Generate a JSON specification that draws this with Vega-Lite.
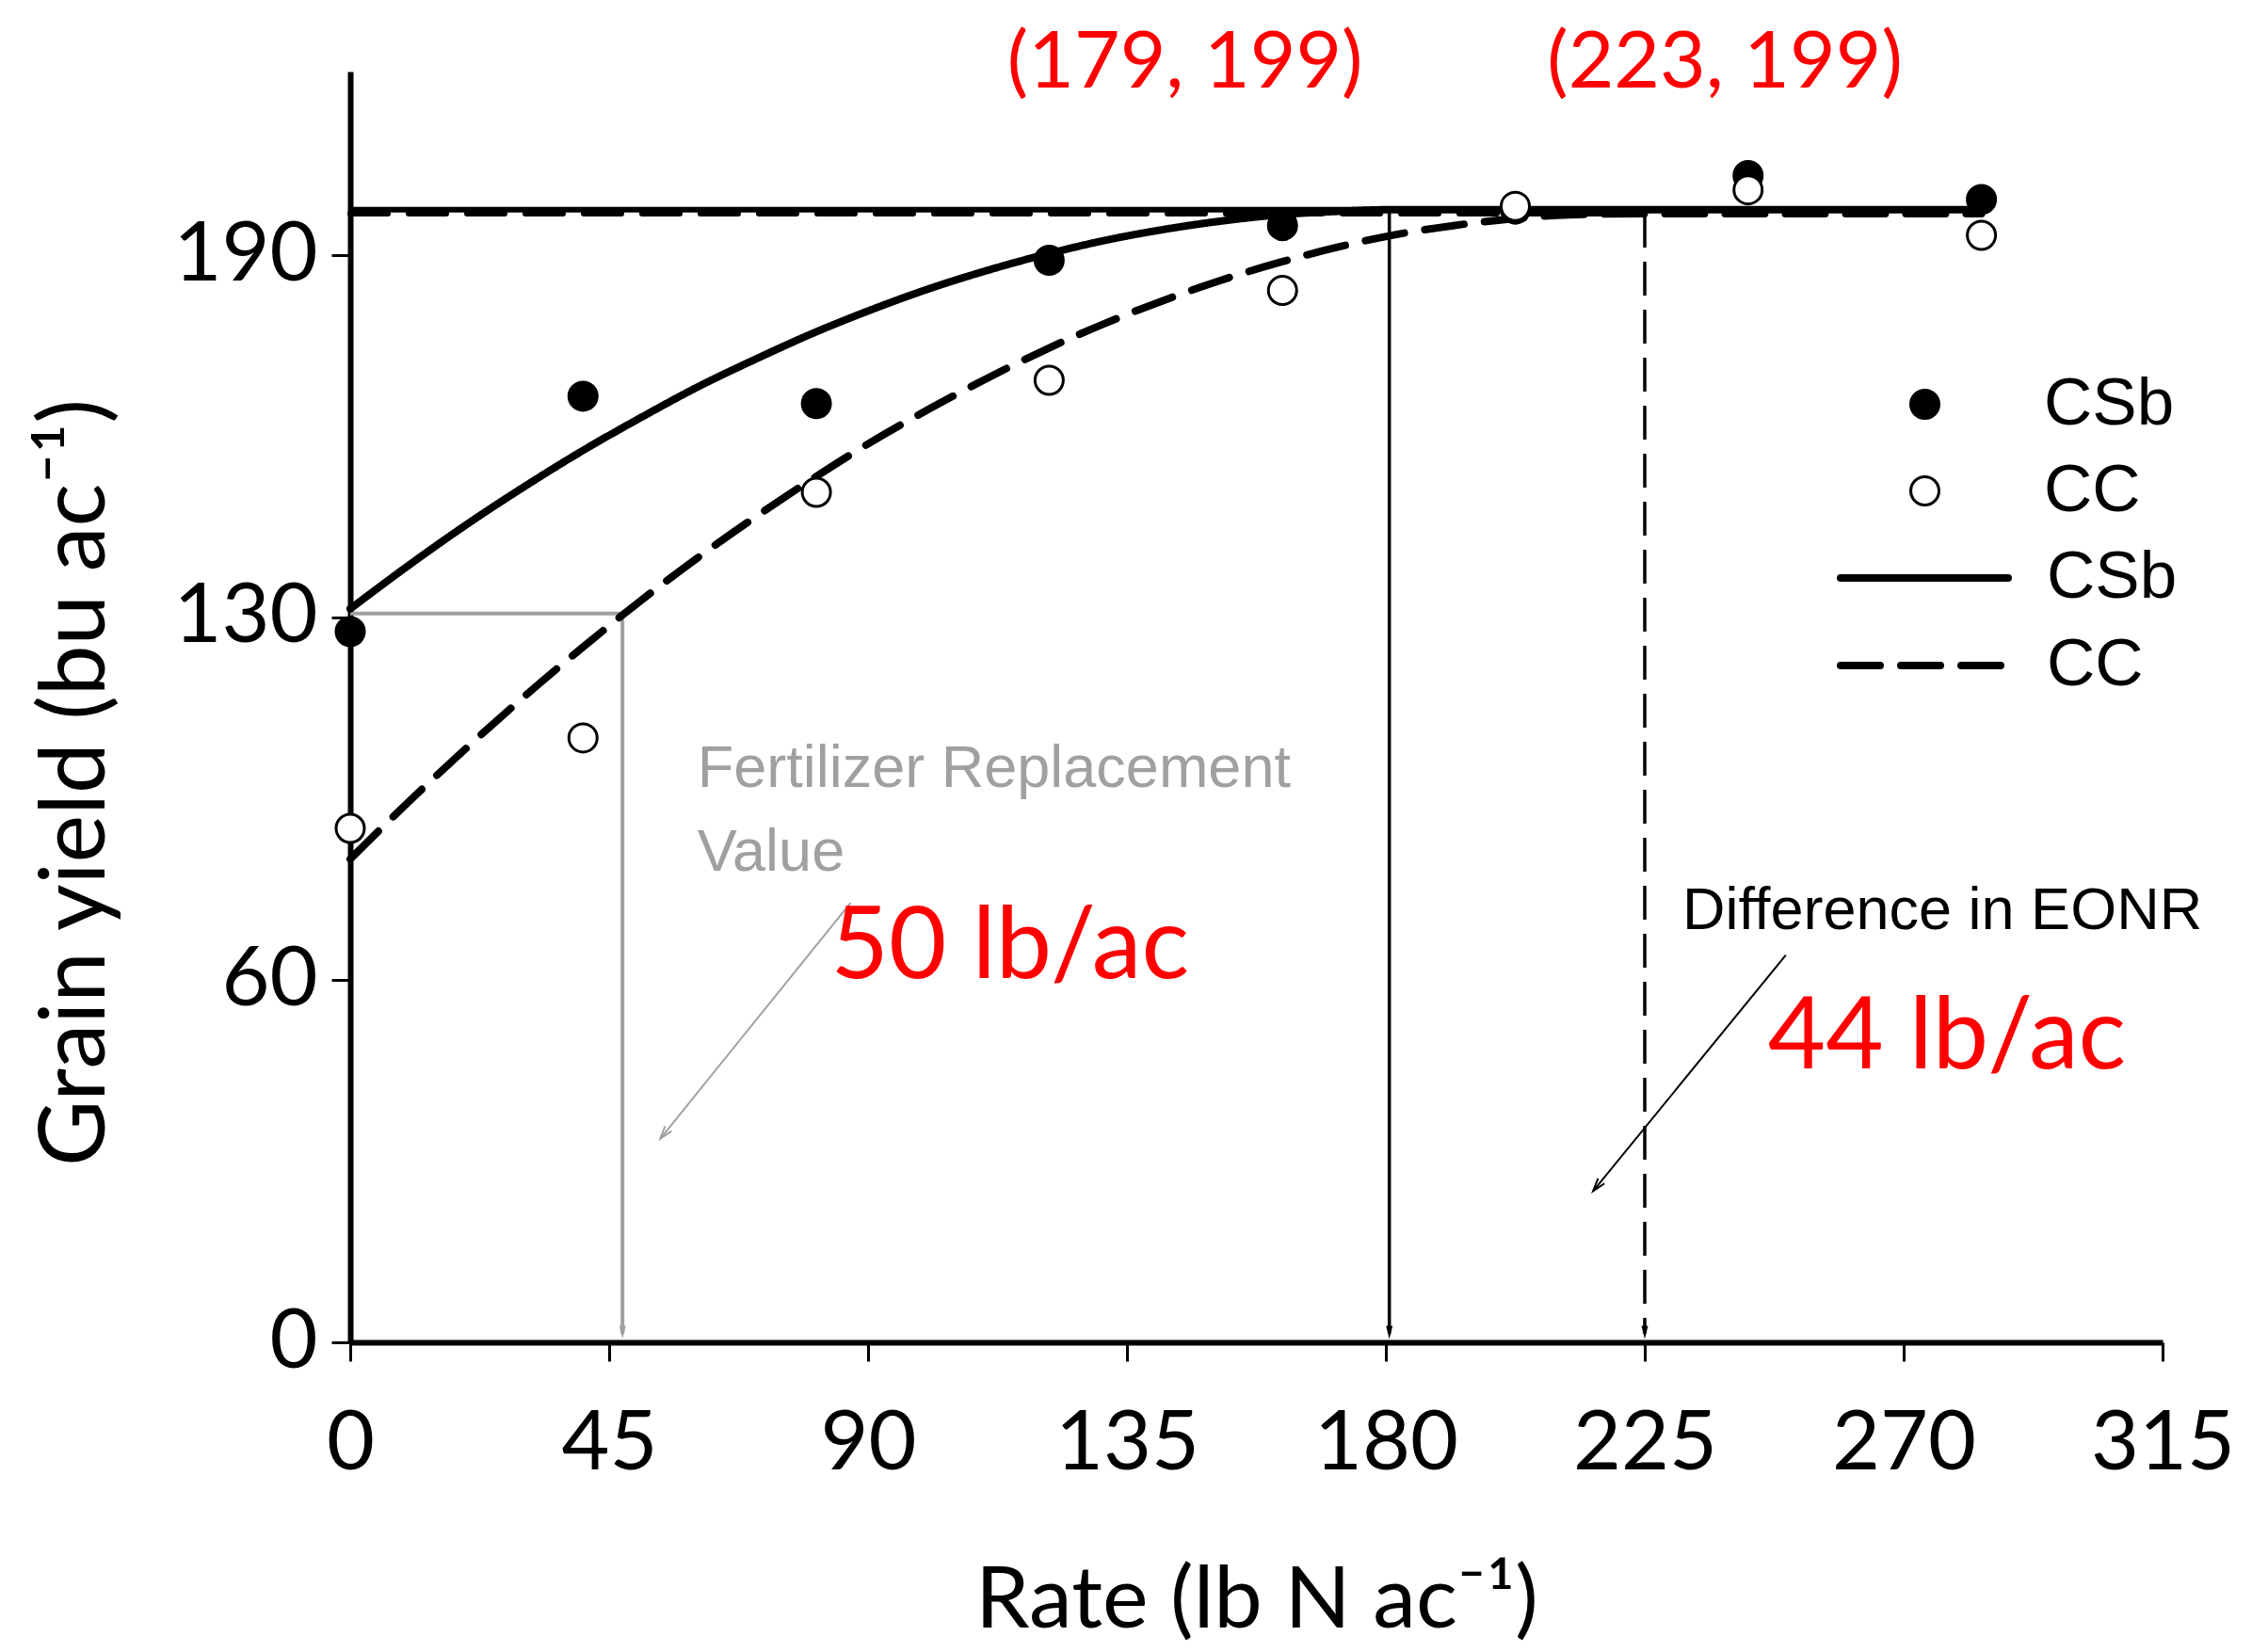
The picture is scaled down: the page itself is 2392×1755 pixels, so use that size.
{
  "$schema": "https://vega.github.io/schema/vega-lite/v6.json",
  "width": 1925,
  "height": 1350,
  "autosize": {"type": "none"},
  "padding": {"left": 372, "top": 76, "right": 95, "bottom": 329},
  "background": "white",
  "config": {
    "view": {"stroke": null},
    "axis": {
      "grid": false,
      "domainColor": "black",
      "domainWidth": 6,
      "tickColor": "black",
      "tickWidth": 3,
      "tickSize": 20,
      "labelFont": "Lato",
      "labelFontSize": 88,
      "labelColor": "black",
      "labelFlush": false,
      "labelOverlap": false,
      "titleFont": "Lato, DejaVu Sans",
      "titleFontWeight": "normal",
      "titleColor": "black"
    }
  },
  "datasets": {
    "points": [
      {"rate": 0, "yield": 125.0, "Crop": "CSb"},
      {"rate": 40.1, "yield": 166.4, "Crop": "CSb"},
      {"rate": 80.3, "yield": 165.1, "Crop": "CSb"},
      {"rate": 120.4, "yield": 190.3, "Crop": "CSb"},
      {"rate": 160.6, "yield": 196.4, "Crop": "CSb"},
      {"rate": 200.7, "yield": 199.3, "Crop": "CSb"},
      {"rate": 240.8, "yield": 205.2, "Crop": "CSb"},
      {"rate": 281.0, "yield": 201.0, "Crop": "CSb"},
      {"rate": 0, "yield": 90.4, "Crop": "CC"},
      {"rate": 40.1, "yield": 106.3, "Crop": "CC"},
      {"rate": 80.3, "yield": 149.5, "Crop": "CC"},
      {"rate": 120.4, "yield": 169.2, "Crop": "CC"},
      {"rate": 160.6, "yield": 185.0, "Crop": "CC"},
      {"rate": 200.7, "yield": 199.8, "Crop": "CC"},
      {"rate": 240.8, "yield": 202.7, "Crop": "CC"},
      {"rate": 281.0, "yield": 194.7, "Crop": "CC"}
    ],
    "fits": [
      {"rate": 0, "yield": 129.0, "Fit": "CSb"},
      {"rate": 10, "yield": 136.6, "Fit": "CSb"},
      {"rate": 20, "yield": 143.8, "Fit": "CSb"},
      {"rate": 30, "yield": 150.5, "Fit": "CSb"},
      {"rate": 40, "yield": 156.8, "Fit": "CSb"},
      {"rate": 50, "yield": 162.6, "Fit": "CSb"},
      {"rate": 60, "yield": 168.1, "Fit": "CSb"},
      {"rate": 70, "yield": 173.0, "Fit": "CSb"},
      {"rate": 80, "yield": 177.6, "Fit": "CSb"},
      {"rate": 90, "yield": 181.7, "Fit": "CSb"},
      {"rate": 100, "yield": 185.4, "Fit": "CSb"},
      {"rate": 110, "yield": 188.6, "Fit": "CSb"},
      {"rate": 120, "yield": 191.4, "Fit": "CSb"},
      {"rate": 130, "yield": 193.8, "Fit": "CSb"},
      {"rate": 140, "yield": 195.7, "Fit": "CSb"},
      {"rate": 150, "yield": 197.2, "Fit": "CSb"},
      {"rate": 160, "yield": 198.3, "Fit": "CSb"},
      {"rate": 170, "yield": 198.9, "Fit": "CSb"},
      {"rate": 179, "yield": 199.2, "Fit": "CSb"},
      {"rate": 281, "yield": 199.2, "Fit": "CSb"},
      {"rate": 0, "yield": 85.0, "Fit": "CC"},
      {"rate": 10, "yield": 95.0, "Fit": "CC"},
      {"rate": 20, "yield": 104.5, "Fit": "CC"},
      {"rate": 30, "yield": 113.6, "Fit": "CC"},
      {"rate": 40, "yield": 122.2, "Fit": "CC"},
      {"rate": 50, "yield": 130.4, "Fit": "CC"},
      {"rate": 60, "yield": 138.1, "Fit": "CC"},
      {"rate": 70, "yield": 145.3, "Fit": "CC"},
      {"rate": 80, "yield": 152.1, "Fit": "CC"},
      {"rate": 90, "yield": 158.5, "Fit": "CC"},
      {"rate": 100, "yield": 164.3, "Fit": "CC"},
      {"rate": 110, "yield": 169.7, "Fit": "CC"},
      {"rate": 120, "yield": 174.7, "Fit": "CC"},
      {"rate": 130, "yield": 179.2, "Fit": "CC"},
      {"rate": 140, "yield": 183.2, "Fit": "CC"},
      {"rate": 150, "yield": 186.8, "Fit": "CC"},
      {"rate": 160, "yield": 189.9, "Fit": "CC"},
      {"rate": 170, "yield": 192.6, "Fit": "CC"},
      {"rate": 180, "yield": 194.8, "Fit": "CC"},
      {"rate": 190, "yield": 196.4, "Fit": "CC"},
      {"rate": 200, "yield": 197.6, "Fit": "CC"},
      {"rate": 210, "yield": 198.3, "Fit": "CC"},
      {"rate": 223, "yield": 198.5, "Fit": "CC"},
      {"rate": 281, "yield": 198.5, "Fit": "CC"}
    ]
  },
  "encoding": {
    "x": {
      "field": "rate",
      "type": "quantitative",
      "title": "Rate (lb N ac⁻¹)",
      "scale": {"domain": [0, 312.2], "nice": false, "zero": false},
      "axis": {
        "values": [0, 44.6, 89.2, 133.8, 178.4, 223, 267.6, 312.2],
        "labelExpr": "'' + round(datum.value / 44.6) * 45",
        "labelPadding": 44,
        "titleFontSize": 92,
        "titleBaseline": "alphabetic",
        "titleY": 302
      }
    },
    "y": {
      "field": "yield",
      "type": "quantitative",
      "title": "Grain yield (bu ac⁻¹)",
      "scale": {"domain": [0, 223.5], "nice": false, "zero": false},
      "axis": {
        "values": [0, 63.7, 127.5, 191.2],
        "labelExpr": "datum.value < 1 ? '0' : datum.value < 100 ? '60' : datum.value < 150 ? '130' : '190'",
        "labelPadding": 15,
        "titleFontSize": 96,
        "titleBaseline": "alphabetic",
        "titleX": -262,
        "titleY": 755
      }
    }
  },
  "layer": [
    {
      "data": {"values": [{"rate": 0, "rate2": 179, "yield": 199.2}]},
      "mark": {"type": "rule", "color": "black", "strokeWidth": 6},
      "encoding": {"x2": {"field": "rate2"}}
    },
    {
      "data": {"values": [{"rate": 0, "rate2": 223, "yield": 198.5}]},
      "mark": {"type": "rule", "color": "black", "strokeWidth": 6, "strokeDash": [40, 22], "strokeCap": "round"},
      "encoding": {"x2": {"field": "rate2"}}
    },
    {
      "data": {"values": [{"rate": 179, "yield": 199.2, "yield2": 1.5}]},
      "mark": {"type": "rule", "color": "black", "strokeWidth": 3.5},
      "encoding": {"y2": {"field": "yield2"}}
    },
    {
      "data": {"values": [{"rate": 223, "yield": 198.5, "yield2": 1.5}]},
      "mark": {"type": "rule", "color": "black", "strokeWidth": 3.5, "strokeDash": [36, 15]},
      "encoding": {"y2": {"field": "yield2"}}
    },
    {
      "data": {"values": [
        {"rate": 0, "yield": 128.2, "rate2": 46.9, "yield2": 128.2},
        {"rate": 46.9, "yield": 128.2, "rate2": 46.9, "yield2": 1.5}
      ]},
      "mark": {"type": "rule", "color": "#a0a0a0", "strokeWidth": 4},
      "encoding": {"x2": {"field": "rate2"}, "y2": {"field": "yield2"}}
    },
    {
      "data": {"values": [{"rate": 86.2, "yield": 77.3, "rate2": 53.4, "yield2": 35.8}]},
      "mark": {"type": "rule", "color": "#a0a0a0", "strokeWidth": 2},
      "encoding": {"x2": {"field": "rate2"}, "y2": {"field": "yield2"}}
    },
    {
      "data": {"values": [{"rate": 247.3, "yield": 68.1, "rate2": 214.1, "yield2": 26.6}]},
      "mark": {"type": "rule", "color": "black", "strokeWidth": 2},
      "encoding": {"x2": {"field": "rate2"}, "y2": {"field": "yield2"}}
    },
    {
      "data": {"values": [{"rate": 179, "yield": 0.6}, {"rate": 223, "yield": 0.6}]},
      "mark": {"type": "point", "shape": "M-0.45,-1.8L0,0L0.45,-1.8Z", "filled": true, "color": "black", "size": 240, "opacity": 1}
    },
    {
      "data": {"values": [{"rate": 46.9, "yield": 0.6}]},
      "mark": {"type": "point", "shape": "M-0.45,-1.8L0,0L0.45,-1.8Z", "filled": true, "color": "#a0a0a0", "size": 240, "opacity": 1}
    },
    {
      "data": {"values": [{"rate": 53.4, "yield": 35.8}]},
      "mark": {"type": "point", "shape": "M-0.5,-1.6L0,0L0.5,-1.6", "filled": false, "color": "#a0a0a0", "strokeWidth": 2, "size": 300, "angle": 38.8, "opacity": 1}
    },
    {
      "data": {"values": [{"rate": 214.1, "yield": 26.6}]},
      "mark": {"type": "point", "shape": "M-0.5,-1.6L0,0L0.5,-1.6", "filled": false, "color": "black", "strokeWidth": 2, "size": 300, "angle": 38.8, "opacity": 1}
    },
    {
      "data": {"name": "fits"},
      "mark": {"type": "line", "color": "black", "strokeWidth": 8, "strokeCap": "round", "interpolate": "monotone"},
      "encoding": {
        "strokeDash": {
          "field": "Fit",
          "type": "nominal",
          "sort": ["CSb", "CC"],
          "scale": {"range": [[1, 0], [42, 22]]},
          "legend": {
            "orient": "none",
            "legendX": 1632,
            "legendY": 498,
            "title": null,
            "padding": 0,
            "symbolType": "M-2.5,0L2.5,0",
            "symbolSize": 5069,
            "symbolStrokeWidth": 8,
            "symbolStrokeColor": "black",
            "labelFont": "Liberation Sans",
            "labelFontSize": 71,
            "labelColor": "black",
            "labelOffset": 90,
            "rowPadding": 18,
            "encode": {"symbols": {"update": {"strokeCap": {"value": "round"}}}}
          }
        }
      }
    },
    {
      "data": {"name": "points"},
      "mark": {"type": "point", "filled": true, "stroke": "black", "strokeWidth": 3, "size": 900, "opacity": 1},
      "encoding": {
        "fill": {
          "field": "Crop",
          "type": "nominal",
          "scale": {"domain": ["CSb", "CC"], "range": ["black", "white"]},
          "legend": {
            "orient": "none",
            "legendX": 1637,
            "legendY": 318,
            "title": null,
            "padding": 0,
            "symbolType": "circle",
            "symbolSize": 900,
            "symbolStrokeColor": "black",
            "symbolStrokeWidth": 3,
            "labelFont": "Liberation Sans",
            "labelFontSize": 71,
            "labelColor": "black",
            "labelOffset": 91,
            "rowPadding": 20
          }
        }
      }
    },
    {
      "data": {"values": [
        {"rate": 143.8, "yield": 220.7, "label": "(179, 199)"},
        {"rate": 236.8, "yield": 220.7, "label": "(223, 199)"}
      ]},
      "mark": {"type": "text", "font": "Lato", "fontSize": 84, "color": "#ff0000", "align": "center", "baseline": "alphabetic"},
      "encoding": {"text": {"field": "label"}}
    },
    {
      "data": {"values": [
        {"rate": 82.8, "yield": 64.1, "label": "50 lb/ac"},
        {"rate": 244.2, "yield": 48.2, "label": "44 lb/ac"}
      ]},
      "mark": {"type": "text", "font": "Lato", "fontSize": 106, "color": "#ff0000", "align": "left", "baseline": "alphabetic"},
      "encoding": {"text": {"field": "label"}}
    },
    {
      "data": {"values": [
        {"rate": 59.8, "yield": 97.6, "label": "Fertilizer Replacement"},
        {"rate": 59.8, "yield": 83.0, "label": "Value"}
      ]},
      "mark": {"type": "text", "font": "Liberation Sans", "fontSize": 63, "color": "#a0a0a0", "align": "left", "baseline": "alphabetic"},
      "encoding": {"text": {"field": "label"}}
    },
    {
      "data": {"values": [{"rate": 229.5, "yield": 72.7, "label": "Difference in EONR"}]},
      "mark": {"type": "text", "font": "Liberation Sans", "fontSize": 63, "color": "black", "align": "left", "baseline": "alphabetic"},
      "encoding": {"text": {"field": "label"}}
    }
  ]
}
